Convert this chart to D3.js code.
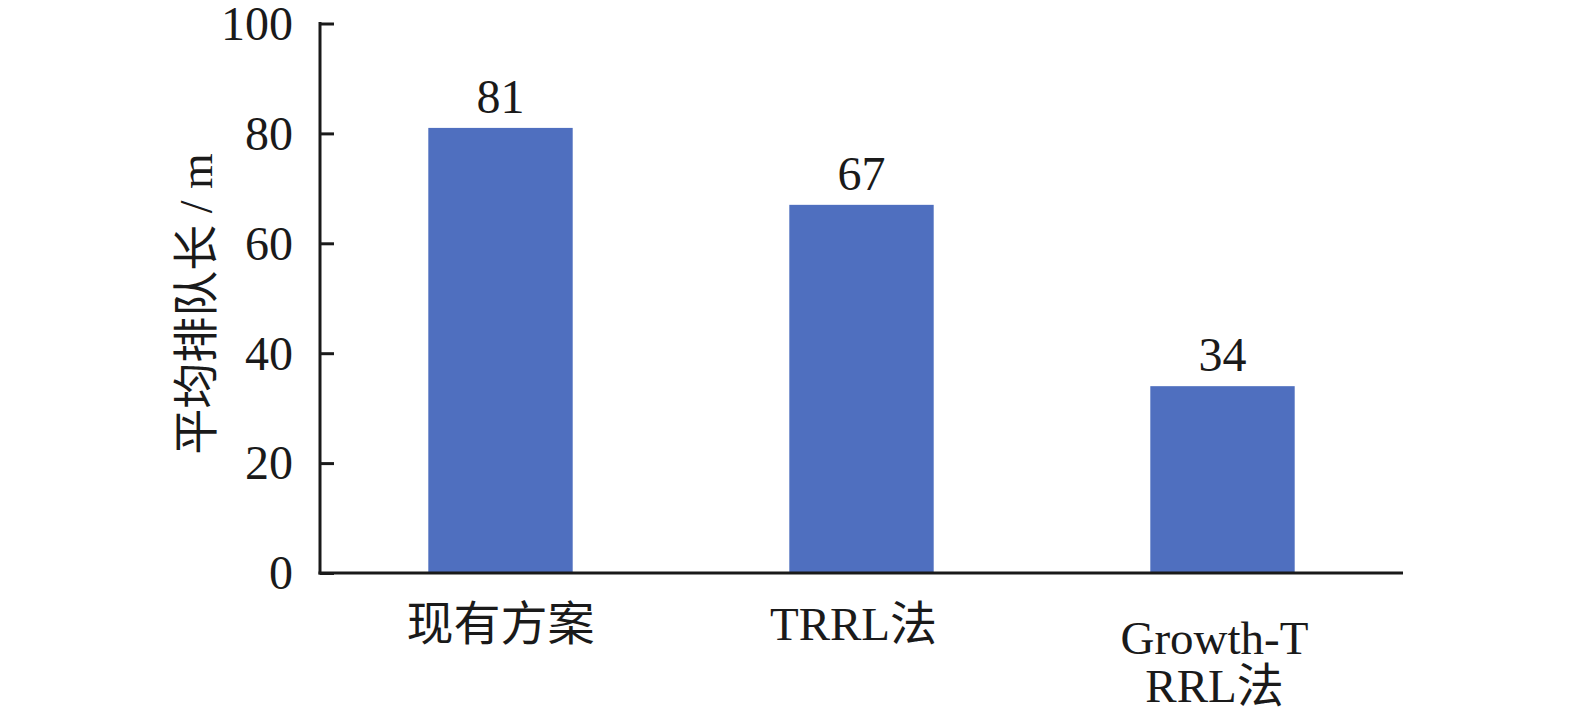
<!DOCTYPE html>
<html><head><meta charset="utf-8">
<script src="https://cdn.jsdelivr.net/npm/d3@7"></script>
<style>body{margin:0;background:#fff}svg{display:block}</style>
</head><body>
<svg id="c" width="1575" height="715"></svg>
<script>
const categories = [["现有方案"], ["TRRL法"], ["Growth-T", "RRL法"]];
const values = [81, 67, 34];
const yTicks = [0, 20, 40, 60, 80, 100];
const yLabel = "平均排队长 / m";

const svg = d3.select("#c");
const font = "'Liberation Serif','Times New Roman','Noto Sans CJK SC',serif";
const L = 320, R = 1403, T = 23.5, B = 573;
const x = d3.scaleBand().domain(d3.range(categories.length)).range([L, R]).paddingInner(0.6).paddingOuter(0.3);
const y = d3.scaleLinear().domain([0, 100]).range([B, T]);

svg.selectAll("rect.bar").data(values).join("rect")
  .attr("class", "bar")
  .attr("x", (d, i) => x(i)).attr("width", x.bandwidth())
  .attr("y", d => y(d)).attr("height", d => y(0) - y(d))
  .attr("fill", "#4F6FBF");

svg.selectAll("text.val").data(values).join("text")
  .attr("class", "val")
  .attr("x", (d, i) => x(i) + x.bandwidth() / 2)
  .attr("y", d => y(d) - 15)
  .attr("text-anchor", "middle")
  .attr("font-family", font).attr("font-size", 48).attr("fill", "#1a1a1a")
  .text(d => d);

const yAxis = svg.append("g").attr("transform", `translate(${L},0)`)
  .call(d3.axisRight(y).tickValues(yTicks).tickSize(14).tickFormat(d3.format("d")));
yAxis.select(".domain").remove();
yAxis.selectAll(".tick line").attr("stroke", "#1a1a1a").attr("stroke-width", 3);
yAxis.selectAll(".tick text")
  .attr("x", -27).attr("dy", "0.33em").attr("text-anchor", "end")
  .attr("font-family", font).attr("font-size", 48).attr("fill", "#1a1a1a");

svg.append("line").attr("x1", L).attr("x2", L).attr("y1", T - 1.5).attr("y2", B + 1.5)
  .attr("stroke", "#1a1a1a").attr("stroke-width", 3);
svg.append("line").attr("x1", L - 1.5).attr("x2", R).attr("y1", B).attr("y2", B)
  .attr("stroke", "#1a1a1a").attr("stroke-width", 3);

const xl = svg.selectAll("text.xl").data(categories).join("text")
  .attr("class", "xl")
  .attr("text-anchor", "middle")
  .attr("font-family", font).attr("font-size", 47).attr("fill", "#1a1a1a");
xl.each(function(d, i) {
  const t = d3.select(this);
  d.forEach((line, j) => {
    t.append("tspan").attr("x", x(i) + x.bandwidth() / 2 - (i > 0 ? 8 : 0))
      .attr("y", (d.length === 1 ? 640 : 654) + j * 48).text(line);
  });
});

svg.append("text")
  .attr("transform", "translate(212,304) rotate(-90)")
  .attr("text-anchor", "middle")
  .attr("font-family", font).attr("font-size", 46).attr("fill", "#1a1a1a")
  .text(yLabel);
</script>
</body></html>
